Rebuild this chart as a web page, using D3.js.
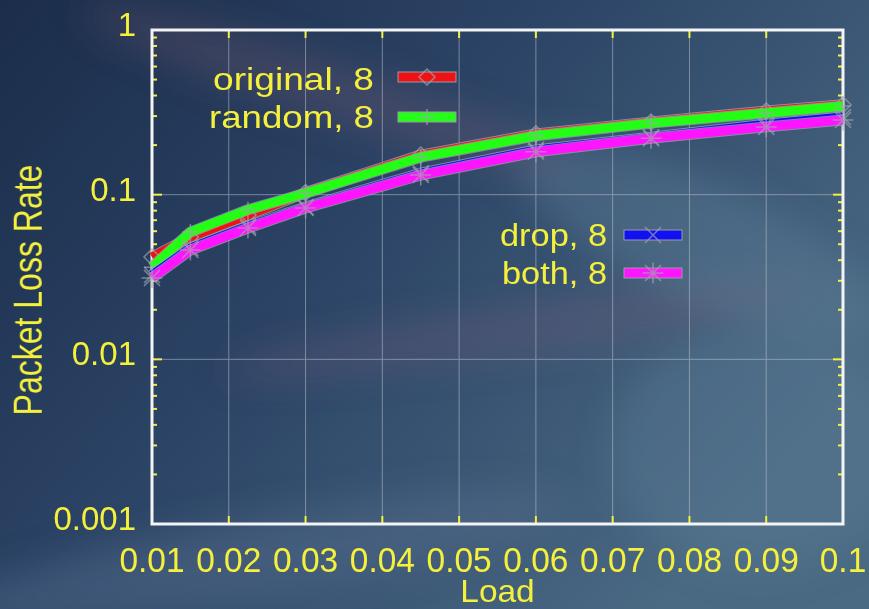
<!DOCTYPE html>
<html>
<head>
<meta charset="utf-8">
<script src="https://cdn.jsdelivr.net/npm/d3@7"></script>
<style>
  html, body { margin: 0; padding: 0; background: #2a4262; }
  svg { display: block; }
  text { font-family: "Liberation Sans", Arial, sans-serif; fill: #f4f03c; }
</style>
</head>
<body>
<div id="chart"></div>
<script>
// data
var loads = [0.01, 0.015, 0.0225, 0.03, 0.045, 0.06, 0.075, 0.09, 0.1];
var original = [0.0418, 0.0553, 0.0752, 0.103, 0.174, 0.234, 0.276, 0.322, 0.352];
var random = [0.0363, 0.0593, 0.081, 0.102, 0.169, 0.228, 0.272, 0.313, 0.345];
var drop = [0.0325, 0.0474, 0.0644, 0.0841, 0.135, 0.187, 0.223, 0.268, 0.296];
var both = [0.0312, 0.0461, 0.0627, 0.083, 0.1315, 0.182, 0.220, 0.258, 0.284];
var seriesNames = ['original, 8', 'random, 8', 'drop, 8', 'both, 8'];
var xTicks = [0.01, 0.02, 0.03, 0.04, 0.05, 0.06, 0.07, 0.08, 0.09, 0.1];
var xTickLabels = ['0.01', '0.02', '0.03', '0.04', '0.05', '0.06', '0.07', '0.08', '0.09', '0.1'];
var yTicks = [0.001, 0.01, 0.1, 1];
var yTickLabels = ['0.001', '0.01', '0.1', '1'];

var W = 869, H = 609;
var margin = {top: 30, right: 26, bottom: 85, left: 152};

var xScale = d3.scaleLinear().domain([0.01, 0.1]).range([margin.left, W - margin.right]);
var yScale = d3.scaleLog().domain([0.001, 1]).range([H - margin.bottom, margin.top]);

var svg = d3.select('#chart').append('svg')
    .attr('width', W)
    .attr('height', H);

// background sky
var defs = svg.append('defs');
var grad = defs.append('linearGradient').attr('id', 'sky')
    .attr('x1', 0).attr('y1', 0).attr('x2', 1).attr('y2', 0.6);
grad.append('stop').attr('offset', '0%').attr('stop-color', '#1b2d4a');
grad.append('stop').attr('offset', '45%').attr('stop-color', '#2b4365');
grad.append('stop').attr('offset', '100%').attr('stop-color', '#4a6983');
defs.append('filter').attr('id', 'blur').append('feGaussianBlur').attr('stdDeviation', 18);

svg.append('rect').attr('width', W).attr('height', H).style('fill', 'url(#sky)');

var clouds = [
    {cx: 330, cy: 90, rx: 260, ry: 28, rot: 18, c: '#7a5a70', o: 0.3},
    {cx: 520, cy: 330, rx: 300, ry: 22, rot: -8, c: '#80607a', o: 0.28},
    {cx: 700, cy: 240, rx: 200, ry: 60, rot: 25, c: '#6a8aa2', o: 0.3},
    {cx: 250, cy: 560, rx: 320, ry: 40, rot: -10, c: '#5a6e8e', o: 0.4},
    {cx: 760, cy: 450, rx: 150, ry: 120, rot: 0, c: '#5e7d98', o: 0.35}
];
svg.append('g').attr('filter', 'url(#blur)')
    .selectAll('ellipse').data(clouds).enter().append('ellipse')
    .attr('cx', function(d) { return d.cx; })
    .attr('cy', function(d) { return d.cy; })
    .attr('rx', function(d) { return d.rx; })
    .attr('ry', function(d) { return d.ry; })
    .attr('transform', function(d) { return 'rotate(' + d.rot + ',' + d.cx + ',' + d.cy + ')'; })
    .style('fill', function(d) { return d.c; })
    .style('opacity', function(d) { return d.o; });

var x0 = xScale.range()[0], x1 = xScale.range()[1];
var y0 = yScale.range()[0], y1 = yScale.range()[1];

// grid
var grid = svg.append('g').style('stroke', '#c8ccd4').style('stroke-width', 1).style('opacity', 0.5);
grid.selectAll('.gx').data(xTicks.slice(1, -1)).enter().append('line')
    .attr('x1', function(d) { return xScale(d); })
    .attr('x2', function(d) { return xScale(d); })
    .attr('y1', y1).attr('y2', y0);
grid.selectAll('.gy').data(yTicks.slice(1, -1)).enter().append('line')
    .attr('y1', function(d) { return yScale(d); })
    .attr('y2', function(d) { return yScale(d); })
    .attr('x1', x0).attr('x2', x1);

// ticks (yellow, inside)
var ticks = svg.append('g').style('stroke', '#f4f03c').style('stroke-width', 2);
var minor = [];
[0.001, 0.01, 0.1].forEach(function(dec) {
    for (var k = 2; k <= 9; k++) minor.push(dec * k);
});
[x0, x1].forEach(function(xx, i) {
    var dir = i === 0 ? 1 : -1;
    ticks.selectAll(null).data(minor).enter().append('line')
        .attr('x1', xx).attr('x2', xx + dir * 5)
        .attr('y1', function(d) { return yScale(d); })
        .attr('y2', function(d) { return yScale(d); });
    ticks.selectAll(null).data(yTicks.slice(1, -1)).enter().append('line')
        .attr('x1', xx).attr('x2', xx + dir * 10)
        .attr('y1', function(d) { return yScale(d); })
        .attr('y2', function(d) { return yScale(d); });
});
[y0, y1].forEach(function(yy, i) {
    var dir = i === 0 ? -1 : 1;
    ticks.selectAll(null).data(xTicks.slice(1, -1)).enter().append('line')
        .attr('x1', function(d) { return xScale(d); })
        .attr('x2', function(d) { return xScale(d); })
        .attr('y1', yy).attr('y2', yy + dir * 8);
});

// frame
svg.append('rect')
    .attr('x', x0).attr('y', y1)
    .attr('width', x1 - x0).attr('height', y0 - y1)
    .style('fill', 'none').style('stroke', '#f4f4f4').style('stroke-width', 3);

// tick labels
svg.append('g').selectAll('text').data(xTicks).enter().append('text')
    .attr('transform', function(d) { return 'translate(' + xScale(d) + ',572) scale(0.93,1)'; })
    .attr('text-anchor', 'middle')
    .style('font-size', '36px')
    .text(function(d, i) { return xTickLabels[i]; });

svg.append('g').selectAll('text').data(yTicks).enter().append('text')
    .attr('x', 136)
    .attr('y', function(d) { return yScale(d) + 6; })
    .attr('text-anchor', 'end')
    .style('font-size', '33px')
    .text(function(d, i) { return yTickLabels[i]; });

// axis titles
svg.append('text')
    .attr('transform', 'translate(' + (x0 + x1) / 2 + ',602) scale(1.08,1)')
    .attr('text-anchor', 'middle')
    .style('font-size', '31px')
    .text('Load');

svg.append('text')
    .attr('transform', 'translate(42,290) rotate(-90) scale(1,1.25)')
    .attr('text-anchor', 'middle')
    .style('font-size', '32px')
    .text('Packet Loss Rate');

// markers
function markerPath(type, s) {
    if (type === 'diamond') return 'M0,' + (-s) + 'L' + s + ',0L0,' + s + 'L' + (-s) + ',0Z';
    if (type === 'plus') return 'M' + (-s) + ',0H' + s + 'M0,' + (-s) + 'V' + s;
    if (type === 'cross') return 'M' + (-s) + ',' + (-s) + 'L' + s + ',' + s + 'M' + (-s) + ',' + s + 'L' + s + ',' + (-s);
    return 'M' + (-s) + ',' + (-s) + 'L' + s + ',' + s + 'M' + (-s) + ',' + s + 'L' + s + ',' + (-s) +
        'M' + (-s * 1.3) + ',0H' + (s * 1.3) + 'M0,' + (-s * 1.3) + 'V' + (s * 1.3);
}

var series = [
    {name: seriesNames[0], values: original, color: '#ee1214', marker: 'diamond'},
    {name: seriesNames[1], values: random, color: '#22ff14', marker: 'plus'},
    {name: seriesNames[2], values: drop, color: '#1010f0', marker: 'cross'},
    {name: seriesNames[3], values: both, color: '#ff14ff', marker: 'star'}
];

var line = d3.line()
    .x(function(d) { return xScale(d[0]); })
    .y(function(d) { return yScale(d[1]); });

var plot = svg.append('g');
series.forEach(function(s) {
    var pts = loads.map(function(l, i) { return [l, s.values[i]]; });
    plot.append('path').datum(pts).attr('d', line)
        .style('fill', 'none').style('stroke', '#a8a8b4').style('stroke-width', 11)
        .style('stroke-linejoin', 'round').style('opacity', 0.7);
    plot.append('path').datum(pts).attr('d', line)
        .style('fill', 'none').style('stroke', s.color).style('stroke-width', 9)
        .style('stroke-linejoin', 'round');
    plot.selectAll(null).data(pts).enter().append('path')
        .attr('transform', function(d) { return 'translate(' + xScale(d[0]) + ',' + yScale(d[1]) + ')'; })
        .attr('d', markerPath(s.marker, 8))
        .style('fill', 'none').style('stroke', '#a0a4ae').style('stroke-width', 1.5).style('opacity', 0.7);
});

// legends
var legendPos = [
    {tx: 374, ty: 90, w: 161, lx: 398, ly: 77},
    {tx: 374, ty: 128, w: 165, lx: 398, ly: 117},
    {tx: 607, ty: 246, w: 107, lx: 624, ly: 235},
    {tx: 607, ty: 284, w: 105, lx: 624, ly: 273}
];
series.forEach(function(s, i) {
    var p = legendPos[i];
    var g = svg.append('g');
    g.append('text').attr('x', p.tx - p.w).attr('y', p.ty)
        .attr('textLength', p.w).attr('lengthAdjust', 'spacingAndGlyphs')
        .style('font-size', '32px').text(s.name);
    g.append('rect').attr('x', p.lx).attr('y', p.ly - 5)
        .attr('width', 58).attr('height', 10)
        .style('fill', s.color).style('stroke', '#9a9aa8').style('stroke-width', 1);
    g.append('path')
        .attr('transform', 'translate(' + (p.lx + 29) + ',' + p.ly + ')')
        .attr('d', markerPath(s.marker, 8))
        .style('fill', 'none').style('stroke', '#a0a4ae').style('stroke-width', 1.5).style('opacity', 0.7);
});
</script>
</body>
</html>
